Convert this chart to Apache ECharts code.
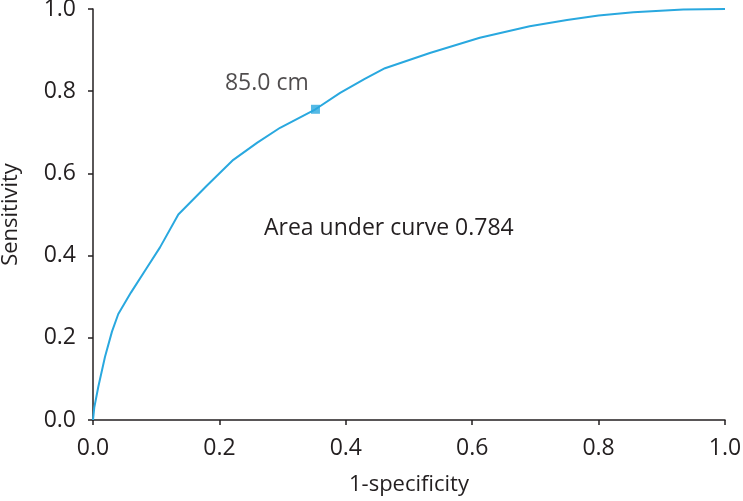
<!DOCTYPE html>
<html>
<head>
<meta charset="utf-8">
<script src="https://cdn.jsdelivr.net/npm/echarts@6/dist/echarts.min.js"></script>
<style>
  html, body { margin: 0; padding: 0; background: #fff; }
  #chart { width: 743px; height: 501px; }
</style>
</head>
<body>
<div id="chart"></div>
<script>
// ROC curve points: [1-specificity, sensitivity]
var fpr = [0, 0.002, 0.0084, 0.019, 0.03, 0.04, 0.06, 0.085, 0.106, 0.135, 0.18, 0.222, 0.26, 0.296, 0.352, 0.391, 0.43, 0.462, 0.533, 0.612, 0.691, 0.75, 0.80, 0.855, 0.934, 1.0];
var tpr = [0, 0.03, 0.081, 0.154, 0.215, 0.258, 0.31, 0.37, 0.42, 0.50, 0.57, 0.633, 0.675, 0.711, 0.756, 0.796, 0.83, 0.856, 0.893, 0.930, 0.958, 0.973, 0.984, 0.992, 0.999, 1.0];
// cut-off point
var cutX = [0.352];
var cutY = [0.756];
var cutLabel = "85.0 cm";
var aucText = "Area under curve 0.784";

var lineColor = "#29a8df";
var ink = "#231f20";
var font = "Open Sans";

var curve = fpr.map(function (x, i) { return [x, tpr[i]]; });
var cut = cutX.map(function (x, i) { return [x, cutY[i]]; });

var myChart = echarts.init(document.getElementById("chart"));
myChart.setOption({
  animation: false,
  textStyle: { fontFamily: font, color: ink },
  grid: { left: 93, right: 18, top: 9, bottom: 81, containLabel: false, outerBoundsMode: "none" },
  xAxis: {
    type: "value",
    min: 0,
    max: 1,
    interval: 0.2,
    name: "1-specificity",
    nameLocation: "middle",
    nameGap: 54,
    nameTextStyle: { fontSize: 22, color: ink, fontFamily: font },
    axisLine: { lineStyle: { color: ink, width: 1.5 } },
    axisTick: { inside: false, length: 5, lineStyle: { color: ink, width: 1.5 } },
    axisLabel: {
      fontSize: 23,
      color: ink,
      margin: 17,
      formatter: function (v) { return v.toFixed(1); }
    },
    splitLine: { show: false }
  },
  yAxis: {
    type: "value",
    min: 0,
    max: 1,
    interval: 0.2,
    name: "Sensitivity",
    nameLocation: "middle",
    nameGap: 71,
    nameTextStyle: { fontSize: 22, color: ink, fontFamily: font },
    axisLine: { show: true, lineStyle: { color: ink, width: 1.5 } },
    axisTick: { show: true, inside: false, length: 5, lineStyle: { color: ink, width: 1.5 } },
    axisLabel: {
      fontSize: 23,
      color: ink,
      margin: 17,
      formatter: function (v) { return v.toFixed(1); }
    },
    splitLine: { show: false }
  },
  series: [
    {
      type: "line",
      data: curve,
      smooth: false,
      showSymbol: false,
      lineStyle: { color: lineColor, width: 2 },
      z: 2
    },
    {
      type: "scatter",
      data: cut,
      symbol: "rect",
      symbolSize: 9,
      itemStyle: { color: lineColor },
      label: {
        show: true,
        formatter: cutLabel,
        position: [-86, -33],
        fontSize: 23,
        color: ink,
        fontFamily: font
      },
      z: 3
    }
  ],
  graphic: [
    {
      type: "text",
      left: 264,
      top: 217,
      style: { text: aucText, fontSize: 23, fill: ink, fontFamily: font }
    }
  ]
});
</script>
</body>
</html>
